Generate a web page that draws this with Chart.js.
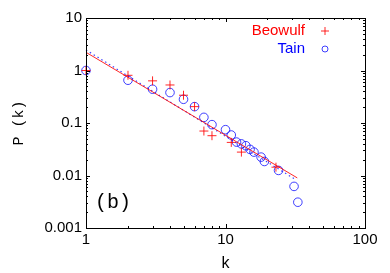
<!DOCTYPE html>
<html>
<head>
<meta charset="utf-8">
<script src="https://cdn.jsdelivr.net/npm/chart.js@4.4.1/dist/chart.umd.min.js"></script>
<style>
  html, body { margin: 0; padding: 0; background: #fff; }
  canvas { display: block; }
</style>
</head>
<body>
<canvas id="chart" width="390" height="273"></canvas>
<script>
// ----------------------------------------------------------
// DATA
// ----------------------------------------------------------

const beowulfK = [1, 2, 3, 4, 5, 6, 7, 8, 11, 13, 23];
const beowulfP = [1, 0.81, 0.635, 0.53, 0.338, 0.205, 0.0703, 0.0573, 0.0427, 0.0279, 0.0144];

const tainK = [1, 2, 3, 4, 5, 6, 7, 8, 10, 11, 12, 13, 14, 15, 16, 18, 19, 24, 31, 33];
const tainP = [1, 0.653, 0.44, 0.38, 0.283, 0.205, 0.128, 0.093, 0.0746, 0.059, 0.0433,
               0.040, 0.0369, 0.0314, 0.0279, 0.0224, 0.0185, 0.0125, 0.0062, 0.0031];

// power-law fits, end points only
const beowulfFitK = [1, 32.7];
const beowulfFitP = [2.22, 0.009];
const tainFitK = [1, 31.5];
const tainFitP = [2.46, 0.0085];

const xTicks = [1, 10, 100];
const yTicks = [0.001, 0.01, 0.1, 1, 10];

const RED = "rgba(255,0,0,0.85)";
const BLUE = "rgba(0,0,255,0.75)";

function pts(xs, ys)
{
    return xs.map((x, i) => ({ x: x, y: ys[i] }));
}

// ----------------------------------------------------------
// PLUGIN: frame, inside ticks (gnuplot style), legend, panel tag
// ----------------------------------------------------------

function minorValues(lo, hi)
{
    const out = [];
    for (let d = lo; d < hi; d *= 10)
        for (let m = 1; m <= 9; m++)
            out.push({ v: m * d, major: m === 1 });
    out.push({ v: hi, major: true });
    return out;
}

const gnuplotFrame = {
    id: "gnuplotFrame",
    afterDraw(chart)
    {
        const ctx = chart.ctx;
        const a = chart.chartArea;
        const xs = chart.scales.x, ys = chart.scales.y;

        ctx.save();
        ctx.strokeStyle = "#000";
        ctx.lineWidth = 1;
        ctx.strokeRect(Math.round(a.left) + 0.5, Math.round(a.top) + 0.5,
                       Math.round(a.right - a.left), Math.round(a.bottom - a.top));

        ctx.beginPath();
        minorValues(1, 100).forEach(t =>
        {
            const px = Math.round(xs.getPixelForValue(t.v)) + 0.5;
            const len = t.major ? 4 : 2;
            ctx.moveTo(px, a.bottom); ctx.lineTo(px, a.bottom - len);
            ctx.moveTo(px, a.top);    ctx.lineTo(px, a.top + len);
        });
        minorValues(0.001, 10).forEach(t =>
        {
            const py = Math.round(ys.getPixelForValue(t.v)) + 0.5;
            const len = t.major ? 4 : 2;
            ctx.moveTo(a.left, py);  ctx.lineTo(a.left + len, py);
            ctx.moveTo(a.right, py); ctx.lineTo(a.right - len, py);
        });
        ctx.stroke();

        // legend
        ctx.font = "15px 'Liberation Sans', Arial, sans-serif";
        ctx.textAlign = "right";
        ctx.textBaseline = "middle";
        ctx.fillStyle = "#ff0000";
        ctx.fillText(chart.data.datasets[2].label, 305, 31);
        ctx.fillStyle = "#0000ff";
        ctx.fillText(chart.data.datasets[3].label, 305, 49);

        ctx.strokeStyle = RED;
        ctx.beginPath();
        ctx.moveTo(321, 31); ctx.lineTo(329, 31);
        ctx.moveTo(325, 27); ctx.lineTo(325, 35);
        ctx.stroke();
        ctx.strokeStyle = BLUE;
        ctx.beginPath();
        ctx.arc(325, 49, 3, 0, Math.PI * 2);
        ctx.stroke();

        // panel tag
        ctx.font = "20px 'Liberation Mono', 'Courier New', monospace";
        ctx.textAlign = "left";
        ctx.fillStyle = "#000";
        ctx.fillText("(b)", 95, 203);
        ctx.restore();
    }
};

// ----------------------------------------------------------
// CHART
// ----------------------------------------------------------

const tickFont = { family: "'Liberation Sans', Arial, sans-serif", size: 15 };
const titleFont = { family: "'Liberation Mono', 'Courier New', monospace", size: 16 };

new Chart(document.getElementById("chart"), {
    type: "scatter",
    data: {
        datasets: [
            { label: "Beowulf fit", data: pts(beowulfFitK, beowulfFitP), showLine: true,
              borderColor: RED, borderWidth: 1, pointRadius: 0, clip: false },
            { label: "Tain fit", data: pts(tainFitK, tainFitP), showLine: true,
              borderColor: BLUE, borderWidth: 1.2, borderDash: [1.5, 3], pointRadius: 0, clip: false },
            { label: "Beowulf", data: pts(beowulfK, beowulfP), pointStyle: "cross",
              pointRadius: 4.5, borderColor: RED, borderWidth: 1, backgroundColor: "transparent", clip: false },
            { label: "Tain", data: pts(tainK, tainP), pointStyle: "circle",
              pointRadius: 4.3, borderColor: BLUE, borderWidth: 1, backgroundColor: "transparent", clip: false }
        ]
    },
    options: {
        responsive: false,
        animation: false,
        devicePixelRatio: 1,
        layout: { padding: { top: 18, right: 25, left: 0, bottom: 0 } },
        plugins: { legend: { display: false }, tooltip: { enabled: false } },
        scales: {
            x: {
                type: "logarithmic", min: 1, max: 100,
                grid: { display: false, drawTicks: false },
                border: { display: false },
                ticks: { font: tickFont, color: "#000", padding: 3, maxRotation: 0, autoSkip: false,
                         callback: v => String(v) },
                afterBuildTicks: s => { s.ticks = xTicks.map(v => ({ value: v })); },
                afterFit: s => { s.height = 45; },
                title: { display: true, text: "k", font: titleFont, color: "#000", padding: 0 }
            },
            y: {
                type: "logarithmic", min: 0.001, max: 10,
                grid: { display: false, drawTicks: false },
                border: { display: false },
                ticks: { font: tickFont, color: "#000", padding: 4, autoSkip: false,
                         callback: v => String(v) },
                afterBuildTicks: s => { s.ticks = yTicks.map(v => ({ value: v })); },
                afterFit: s => { s.width = 86; },
                title: { display: true, text: "P (k)", font: { family: titleFont.family, size: 15 },
                         color: "#000", padding: { top: 10 } }
            }
        }
    },
    plugins: [gnuplotFrame]
});
</script>
</body>
</html>
